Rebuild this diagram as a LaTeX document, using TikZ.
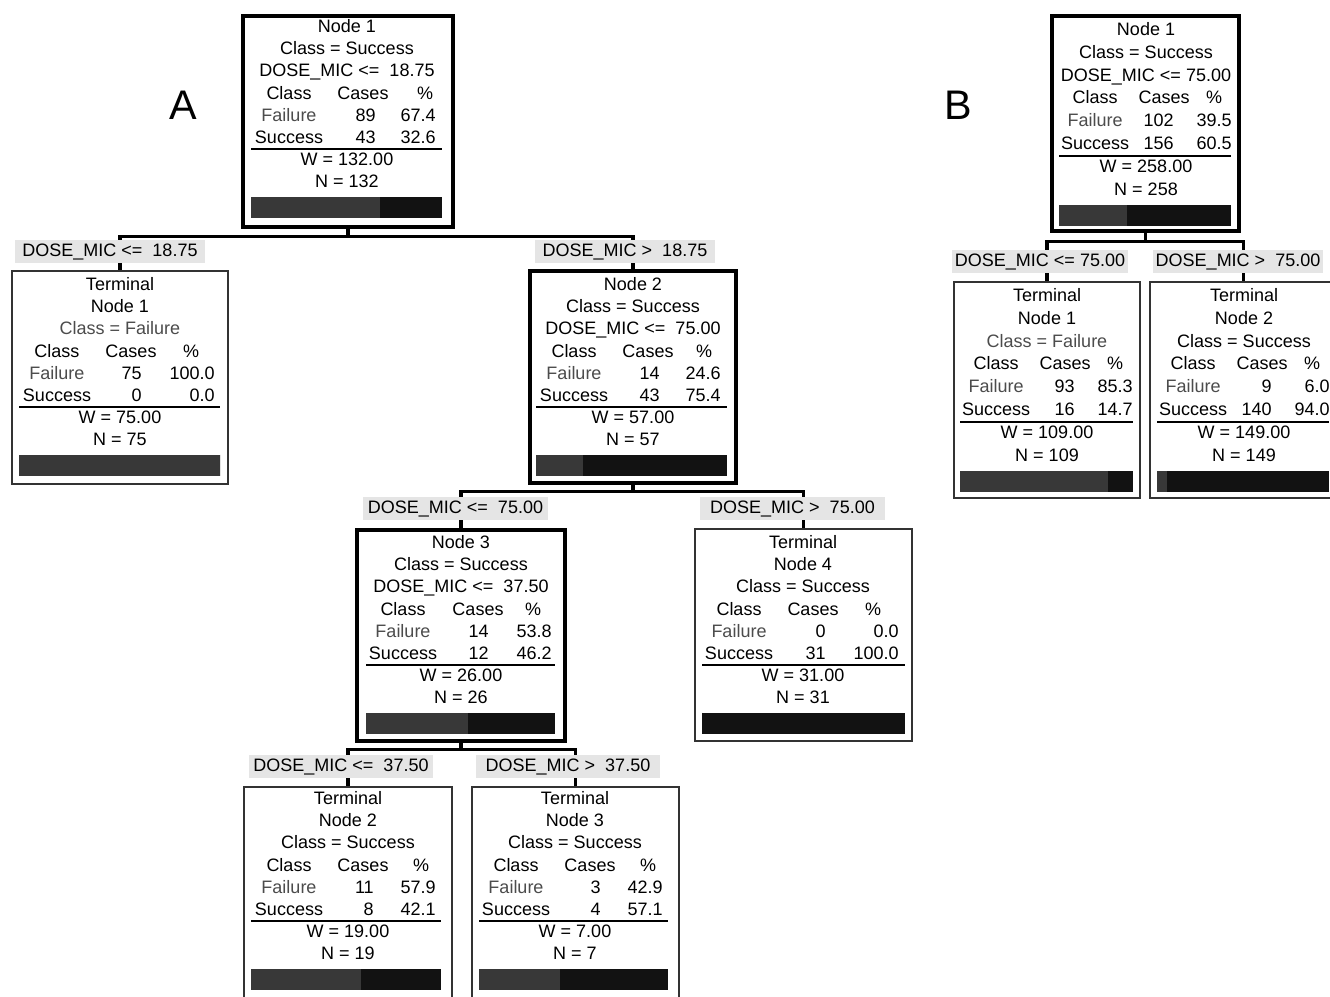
\documentclass[tikz,border=0pt]{standalone}
\usepackage{fontspec}
\setmainfont{Liberation Sans}
\definecolor{barF}{gray}{0.22}
\definecolor{barS}{gray}{0.07}
\definecolor{lblbg}{gray}{0.90}
\definecolor{fcol}{gray}{0.30}
\definecolor{thinc}{gray}{0.20}
\newcommand{\fs}{\fontsize{13.5}{16}\selectfont}
\newcommand{\dy}{22.2}
\newcommand{\ca}{-58}\newcommand{\cb}{15}\newcommand{\cc}{76}\newcommand{\cd}{28}\newcommand{\ce}{89}
\newcommand{\setcols}[5]{\renewcommand{\ca}{#1}\renewcommand{\cb}{#2}\renewcommand{\cc}{#3}\renewcommand{\cd}{#4}\renewcommand{\ce}{#5}}
\tikzset{
  txt/.style={inner sep=0pt, anchor=base, yshift=-4.8pt, font=\fs},
  txtr/.style={txt, anchor=base east},
  boxdim/.style 2 args={minimum width={#1*0.75pt}, minimum height={#2*0.75pt}, inner sep=0pt},
  splitbox/.style={draw=black, line width=3.2pt},
  termbox/.style={draw=thinc, line width=1.5pt},
  edge/.style={draw=black, line width=2.3pt},
  rulel/.style={draw=black, line width=1.5pt},
  lbl/.style={fill=lblbg, inner sep=0pt, minimum height={23*0.75pt}, font=\fs},
  panel/.style={inner sep=0pt, font=\fontsize{31}{36}\selectfont}
}
\newcommand{\titles}[6]{%
  \node[txt] (#1-t1) at (#2,#3) {#4};
  \node[txt] (#1-t2) at (#2,{#3+\dy}) {#5};
  \node[txt] (#1-t3) at (#2,{#3+2*\dy}) {#6};
}
\newcommand{\stats}[9]{%
  \node[txt] (#1-hc) at ({#2+\ca},{#3+3*\dy}) {Class};
  \node[txt] (#1-hn) at ({#2+\cb},{#3+3*\dy}) {Cases};
  \node[txt] (#1-hp) at ({#2+\cc},{#3+3*\dy}) {\%};
  \node[txt,text=fcol] (#1-fl) at ({#2+\ca},{#3+4*\dy}) {Failure};
  \node[txtr] (#1-fc) at ({#2+\cd},{#3+4*\dy}) {#4};
  \node[txtr] (#1-fp) at ({#2+\ce},{#3+4*\dy}) {#5};
  \node[txt] (#1-sl) at ({#2+\ca},{#3+5*\dy}) {Success};
  \node[txtr] (#1-sc) at ({#2+\cd},{#3+5*\dy}) {#6};
  \node[txtr] (#1-sp) at ({#2+\ce},{#3+5*\dy}) {#7};
  \node[txt] (#1-w) at (#2,{#3+6*\dy}) {W = #8};
  \node[txt] (#1-n) at (#2,{#3+7*\dy}) {N = #9};
}
\newcommand{\pbar}[4]{% x1, x2, y1, frac
  \draw[rulel] (#1,{#3+5.55*\dy}) -- (#2,{#3+5.55*\dy});
  \fill[barF] (#1,{#3+7.7*\dy}) rectangle ({#1+(#2-#1)*#4},{#3+7.7*\dy+21});
  \fill[barS] ({#1+(#2-#1)*#4},{#3+7.7*\dy}) rectangle (#2,{#3+7.7*\dy+21});
}
\begin{document}
\begin{tikzpicture}[x=0.75pt,y=-0.75pt]
\useasboundingbox (0,0) rectangle (1330,996);
\fill[white] (0,0) rectangle (1330,996);
\clip (0,0) rectangle (1330,996);

% ---------------- Panel A ----------------
\node[panel] (PA) at (183,105) {A};
\node[splitbox, boxdim={210}{211}] (A1) at (348,121.5) {};
\node[termbox, boxdim={216}{213}] (AT1) at (120,377.5) {};
\node[splitbox, boxdim={206}{212}] (A2) at (633,377) {};
\node[splitbox, boxdim={208}{211}] (A3) at (461,635.5) {};
\node[termbox, boxdim={217}{212}] (AT4) at (803.5,635) {};
\node[termbox, boxdim={208}{222}] (AT2) at (348,898) {};
\node[termbox, boxdim={207}{222}] (AT3) at (575.5,898) {};

\draw[edge] (A1.south) -- ++(0,7) coordinate (jA1);
\draw[edge] (jA1) -| (AT1.north);
\draw[edge] (jA1) -| (A2.north);
\draw[edge] (A2.south) -- ++(0,6) coordinate (jA2);
\draw[edge] (jA2) -| (A3.north);
\draw[edge] (jA2) -| (AT4.north);
\draw[edge] (A3.south) -- ++(0,6) coordinate (jA3);
\draw[edge] (jA3) -| (AT2.north);
\draw[edge] (jA3) -| (AT3.north);

\node[lbl, minimum width={190*0.75pt}] (LA1) at (110,251.5) {DOSE\_MIC <=\ \ 18.75};
\node[lbl, minimum width={180*0.75pt}] (LA2) at (625,251.5) {DOSE\_MIC >\ \ 18.75};
\node[lbl, minimum width={185*0.75pt}] (LA3) at (455.5,508.5) {DOSE\_MIC <=\ \ 75.00};
\node[lbl, minimum width={185*0.75pt}] (LA4) at (792.5,508.5) {DOSE\_MIC >\ \ 75.00};
\node[lbl, minimum width={184*0.75pt}] (LA5) at (341,766.5) {DOSE\_MIC <=\ \ 37.50};
\node[lbl, minimum width={184*0.75pt}] (LA6) at (568,766.5) {DOSE\_MIC >\ \ 37.50};

\setcols{-58}{16}{78}{29}{89}
\titles{a1}{347}{26}{Node 1}{Class = Success}{DOSE\_MIC <=\ \ 18.75}
\stats{a1}{347}{26}{89}{67.4}{43}{32.6}{132.00}{132}
\pbar{251}{442}{26}{0.674}

\setcols{-63}{11}{71}{22}{95}
\titles{at1}{120}{284}{Terminal}{Node 1}{\textcolor{fcol}{Class = Failure}}
\stats{at1}{120}{284}{75}{100.0}{0}{0.0}{75.00}{75}
\pbar{19}{220}{284}{1}

\setcols{-59}{15}{71}{27}{88}
\titles{a2}{633}{284}{Node 2}{Class = Success}{DOSE\_MIC <=\ \ 75.00}
\stats{a2}{633}{284}{14}{24.6}{43}{75.4}{57.00}{57}
\pbar{536}{727}{284}{0.246}

\setcols{-58}{17}{72}{28}{91}
\titles{a3}{461}{542}{Node 3}{Class = Success}{DOSE\_MIC <=\ \ 37.50}
\stats{a3}{461}{542}{14}{53.8}{12}{46.2}{26.00}{26}
\pbar{366}{555}{542}{0.538}

\setcols{-64}{10}{70}{23}{96}
\titles{at4}{803}{542}{Terminal}{Node 4}{Class = Success}
\stats{at4}{803}{542}{0}{0.0}{31}{100.0}{31.00}{31}
\pbar{702}{905}{542}{0}

\setcols{-59}{15}{73}{26}{88}
\titles{at2}{348}{798}{Terminal}{Node 2}{Class = Success}
\stats{at2}{348}{798}{11}{57.9}{8}{42.1}{19.00}{19}
\pbar{251}{441}{798}{0.579}

\titles{at3}{575}{798}{Terminal}{Node 3}{Class = Success}
\stats{at3}{575}{798}{3}{42.9}{4}{57.1}{7.00}{7}
\pbar{479}{668}{798}{0.429}

% ---------------- Panel B ----------------
\renewcommand{\dy}{22.8}
\node[panel] (PB) at (958,105) {B};
\node[splitbox, boxdim={187}{215}] (B1) at (1145.5,123.5) {};
\node[termbox, boxdim={186}{216}] (BT1) at (1047,390) {};
\node[termbox, boxdim={187}{216}] (BT2) at (1243.5,390) {};

\draw[edge] (B1.south) -- ++(0,8) coordinate (jB1);
\draw[edge] (jB1) -| (BT1.north);
\draw[edge] (jB1) -| (BT2.north);

\node[lbl, minimum width={176*0.75pt}] (LB1) at (1040,261.5) {DOSE\_MIC <= 75.00};
\node[lbl, minimum width={170*0.75pt}] (LB2) at (1238,261.5) {DOSE\_MIC >\ \ 75.00};

\setcols{-51}{18}{68}{28}{86}
\titles{b1}{1146}{29}{Node 1}{Class = Success}{DOSE\_MIC <= 75.00}
\stats{b1}{1146}{29}{102}{39.5}{156}{60.5}{258.00}{258}
\pbar{1059}{1231}{29}{0.395}

\titles{bt1}{1047}{295}{Terminal}{Node 1}{\textcolor{fcol}{Class = Failure}}
\stats{bt1}{1047}{295}{93}{85.3}{16}{14.7}{109.00}{109}
\pbar{960}{1133}{295}{0.853}

\titles{bt2}{1244}{295}{Terminal}{Node 2}{Class = Success}
\stats{bt2}{1244}{295}{9}{6.0}{140}{94.0}{149.00}{149}
\pbar{1157}{1329}{295}{0.06}
\end{tikzpicture}
\end{document}
